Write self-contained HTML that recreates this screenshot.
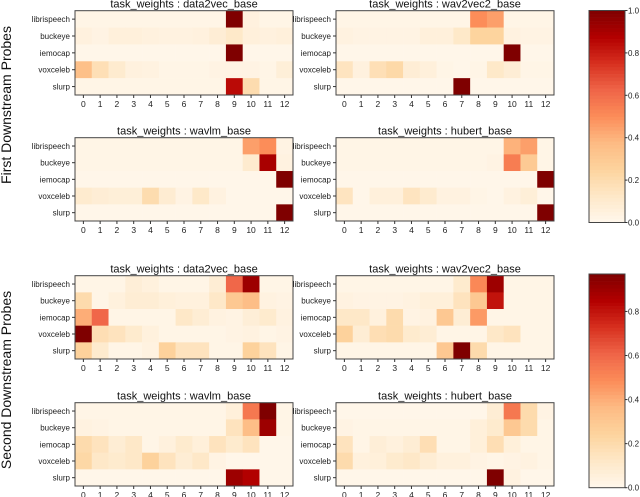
<!DOCTYPE html>
<html><head><meta charset="utf-8"><style>
body{margin:0;background:#fff;overflow:hidden;}
svg{display:block;font-family:"Liberation Sans","DejaVu Sans",sans-serif;}
</style></head><body>
<svg id="fig" width="640" height="497" viewBox="0 0 640 497"></svg>
<script>
const rowsLabels = ["librispeech","buckeye","iemocap","voxceleb","slurp"];
const layerLabels = ["0","1","2","3","4","5","6","7","8","9","10","11","12"];
const d2vFirst = [
[0.02,0.02,0.02,0.02,0.02,0.02,0.02,0.02,0.02,1.0,0.05,0.02,0.02],
[0.05,0.03,0.06,0.06,0.05,0.04,0.04,0.05,0.08,0.12,0.06,0.05,0.06],
[0.01,0.01,0.01,0.01,0.01,0.01,0.01,0.01,0.01,1.0,0.01,0.01,0.01],
[0.35,0.18,0.1,0.05,0.04,0.02,0.02,0.02,0.03,0.03,0.03,0.02,0.07],
[0.02,0.02,0.02,0.02,0.02,0.02,0.02,0.02,0.02,0.85,0.2,0.02,0.02]];
const w2vFirst = [
[0.02,0.02,0.02,0.02,0.02,0.02,0.02,0.02,0.5,0.45,0.02,0.02,0.02],
[0.04,0.03,0.03,0.03,0.03,0.06,0.06,0.12,0.25,0.25,0.04,0.03,0.03],
[0.01,0.01,0.01,0.01,0.01,0.01,0.01,0.01,0.01,0.01,1.0,0.01,0.01],
[0.15,0.05,0.18,0.22,0.08,0.06,0.02,0.01,0.02,0.12,0.08,0.02,0.02],
[0.01,0.01,0.01,0.01,0.01,0.01,0.01,1.0,0.01,0.01,0.01,0.01,0.01]];
const wavlmFirst = [
[0.02,0.02,0.02,0.02,0.02,0.02,0.02,0.02,0.02,0.02,0.45,0.5,0.03],
[0.02,0.02,0.02,0.02,0.02,0.02,0.02,0.02,0.02,0.02,0.1,0.9,0.04],
[0.01,0.01,0.01,0.01,0.01,0.01,0.01,0.01,0.01,0.01,0.01,0.01,1.0],
[0.1,0.08,0.07,0.07,0.2,0.09,0.03,0.12,0.04,0.01,0.01,0.01,0.01],
[0.01,0.01,0.01,0.01,0.01,0.01,0.01,0.01,0.01,0.01,0.01,0.01,1.0]];
const hubertFirst = [
[0.02,0.02,0.02,0.02,0.02,0.02,0.02,0.02,0.02,0.02,0.4,0.45,0.02],
[0.02,0.02,0.02,0.02,0.02,0.02,0.02,0.02,0.02,0.03,0.55,0.3,0.02],
[0.01,0.01,0.01,0.01,0.01,0.01,0.01,0.01,0.01,0.01,0.01,0.01,1.0],
[0.15,0.01,0.06,0.06,0.15,0.1,0.04,0.04,0.02,0.01,0.04,0.07,0.01],
[0.01,0.01,0.01,0.01,0.01,0.01,0.01,0.01,0.01,0.01,0.01,0.01,1.0]];
const d2vSecond = [
[0.02,0.02,0.02,0.07,0.05,0.02,0.02,0.02,0.08,0.6,0.9,0.02,0.02],
[0.2,0.02,0.05,0.08,0.08,0.06,0.05,0.05,0.12,0.3,0.35,0.04,0.03],
[0.4,0.6,0.02,0.02,0.02,0.02,0.12,0.08,0.04,0.03,0.07,0.1,0.04],
[0.97,0.18,0.15,0.1,0.05,0.02,0.02,0.02,0.02,0.03,0.04,0.02,0.03],
[0.25,0.1,0.02,0.02,0.04,0.25,0.15,0.15,0.02,0.02,0.25,0.15,0.02]];
const w2vSecond = [
[0.02,0.02,0.02,0.02,0.02,0.02,0.02,0.1,0.5,0.9,0.02,0.02,0.02],
[0.04,0.03,0.03,0.03,0.04,0.06,0.06,0.15,0.3,0.8,0.02,0.02,0.02],
[0.12,0.12,0.05,0.2,0.03,0.04,0.3,0.08,0.45,0.02,0.02,0.02,0.02],
[0.25,0.08,0.18,0.2,0.1,0.08,0.02,0.02,0.02,0.12,0.15,0.02,0.02],
[0.02,0.02,0.02,0.02,0.02,0.02,0.3,0.97,0.2,0.02,0.02,0.02,0.02]];
const wavlmSecond = [
[0.02,0.02,0.02,0.02,0.02,0.02,0.02,0.02,0.02,0.06,0.55,0.97,0.02],
[0.04,0.03,0.02,0.02,0.02,0.02,0.02,0.02,0.02,0.15,0.35,0.9,0.02],
[0.2,0.15,0.08,0.12,0.02,0.05,0.1,0.06,0.15,0.1,0.15,0.01,0.01],
[0.22,0.12,0.1,0.12,0.25,0.15,0.08,0.12,0.03,0.01,0.01,0.01,0.01],
[0.01,0.01,0.01,0.01,0.01,0.01,0.01,0.01,0.01,0.9,0.85,0.01,0.01]];
const hubertSecond = [
[0.01,0.01,0.01,0.01,0.01,0.01,0.01,0.01,0.01,0.08,0.55,0.2,0.03],
[0.03,0.02,0.02,0.02,0.02,0.02,0.02,0.02,0.06,0.1,0.3,0.2,0.02],
[0.15,0.02,0.07,0.05,0.08,0.18,0.02,0.02,0.06,0.18,0.06,0.02,0.02],
[0.2,0.05,0.06,0.1,0.12,0.08,0.05,0.05,0.03,0.02,0.03,0.04,0.02],
[0.01,0.01,0.01,0.01,0.01,0.01,0.01,0.01,0.01,0.97,0.04,0.01,0.01]];
const cbTicksTop = [0,0.2,0.4,0.6,0.8,1.0];
const cbTicksBottom = [0,0.2,0.4,0.6,0.8];

const NS="http://www.w3.org/2000/svg";
const svg=document.getElementById('fig');
function el(t,a,p){const e=document.createElementNS(NS,t);for(const k in a)e.setAttribute(k,a[k]);(p||svg).appendChild(e);return e;}
const stops=["#fff7ec","#fee8c8","#fdd49e","#fdbb84","#fc8d59","#ef6548","#d7301f","#b30000","#7f0000"];
function hex(c){return [1,3,5].map(i=>parseInt(c.substr(i,2),16));}
function cmap(t){t=Math.max(0,Math.min(1,t));const p=t*8;const i=Math.min(7,Math.floor(p));const f=p-i;const a=hex(stops[i]),b=hex(stops[i+1]);return "rgb("+a.map((v,k)=>Math.round(v+(b[k]-v)*f)).join(",")+")";}

function heatmap(name,title,data,x0,x1,y0,y1,vmax){
  const g=el('g',{});
  
  
  const cw=(x1-x0)/layerLabels.length, ch=(y1-y0)/rowsLabels.length;
  const xs=i=>x0+i*cw, ys=j=>y0+j*ch;
  data.forEach((row,j)=>row.forEach((v,i)=>{
    const r=el('rect',{x:xs(i),y:ys(j),width:cw+0.3,height:ch+0.3,fill:cmap(v/vmax)},g);
    
    
  }));
  const fr=el('rect',{x:x0,y:y0,width:x1-x0,height:y1-y0,fill:'none',stroke:'#444','stroke-width':1},g);
  
  
  const t=el('text',{x:(x0+x1)/2,y:y0-3,'text-anchor':'middle','font-size':11,fill:'#111'},g);
  t.textContent=title;
  
  
  rowsLabels.forEach((l,j)=>{
    const cy=ys(j)+ch/2;
    el('line',{x1:x0-3,x2:x0,y1:cy,y2:cy,stroke:'#333'},g);
    const tx=el('text',{x:x0-5,y:cy+3,'text-anchor':'end','font-size':8,fill:'#222'},g);
    tx.textContent=l;
    
    
  });
  layerLabels.forEach((l,i)=>{
    const cx=xs(i)+cw/2;
    el('line',{x1:cx,x2:cx,y1:y1,y2:y1+3,stroke:'#333'},g);
    const tx=el('text',{x:cx,y:y1+12,'text-anchor':'middle','font-size':8.5,fill:'#222'},g);
    tx.textContent=l;
    
    
  });
}
function colorbar(name,y0,y1,vmax,ticks){
  const g=el('g',{});
  
  
  const x0=589,x1=625,n=60,h=(y1-y0)/n;
  for(let k=0;k<n;k++){el('rect',{x:x0,y:y1-(k+1)*h,width:x1-x0,height:h+0.3,fill:cmap((k+0.5)/n)},g);}
  el('rect',{x:x0,y:y0,width:x1-x0,height:y1-y0,fill:'none',stroke:'#444'},g);
  ticks.forEach(v=>{
    const y=y1-(v/vmax)*(y1-y0);
    el('line',{x1:x1,x2:x1+2.5,y1:y,y2:y,stroke:'#333'},g);
    const t=el('text',{x:x1+3,y:y+3,'font-size':8,fill:'#222'},g);
    t.textContent=v.toFixed(1);
    
    
  });
}
heatmap('heatmap-first-data2vec','task_weights : data2vec_base',d2vFirst,75,293,10.7,95,1);
heatmap('heatmap-first-wav2vec2','task_weights : wav2vec2_base',w2vFirst,336,554,10.7,95,1);
heatmap('heatmap-first-wavlm','task_weights : wavlm_base',wavlmFirst,75,293,137.7,221,1);
heatmap('heatmap-first-hubert','task_weights : hubert_base',hubertFirst,336,554,137.7,221,1);
heatmap('heatmap-second-data2vec','task_weights : data2vec_base',d2vSecond,75,293,275.7,359,0.97);
heatmap('heatmap-second-wav2vec2','task_weights : wav2vec2_base',w2vSecond,336,554,275.7,359,0.97);
heatmap('heatmap-second-wavlm','task_weights : wavlm_base',wavlmSecond,75,293,402.7,486,0.97);
heatmap('heatmap-second-hubert','task_weights : hubert_base',hubertSecond,336,554,402.7,486,0.97);
colorbar('colorbar-first',10.5,222.5,1.0,cbTicksTop);
colorbar('colorbar-second',274,487.7,0.97,cbTicksBottom);
function vlabel(txt,cy,name){
  const t=el('text',{x:0,y:0,'text-anchor':'middle','font-size':14,fill:'#111',transform:'translate(11,'+cy+') rotate(-90)'});
  t.textContent=txt;
  
  
}
vlabel('First Downstream Probes',105,'first-probes-label');
vlabel('Second Downstream Probes',380,'second-probes-label');
</script>
</body></html>
